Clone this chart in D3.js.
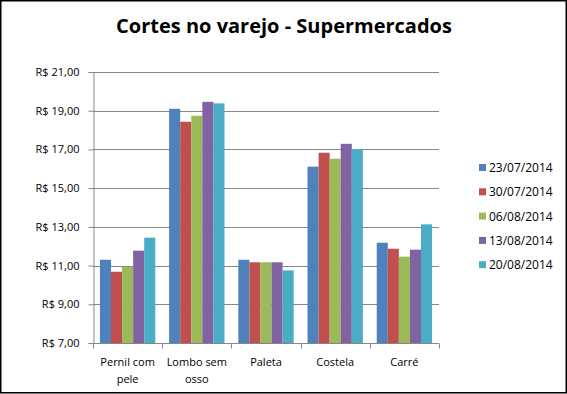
<!DOCTYPE html>
<html>
<head>
<meta charset="utf-8">
<script src="https://cdn.jsdelivr.net/npm/d3@7"></script>
<style>
  body { margin: 0; background: #fff; }
  text { font-family: "Open Sans", "DejaVu Sans", sans-serif; fill: #000; }
</style>
</head>
<body>
<div id="chart"></div>
<script>
// chart data
var categories = [["Pernil com", "pele"], ["Lombo sem", "osso"], ["Paleta"], ["Costela"], ["Carré"]];
var seriesNames = ["23/07/2014", "30/07/2014", "06/08/2014", "13/08/2014", "20/08/2014"];
var seriesColors = ["#4F81BD", "#C0504D", "#9BBB59", "#8064A2", "#4BACC6"];
var s1 = [11.30, 19.10, 11.30, 16.11, 12.18];
var s2 = [10.68, 18.43, 11.17, 16.83, 11.87];
var s3 = [10.94, 18.74, 11.17, 16.52, 11.46];
var s4 = [11.77, 19.46, 11.17, 17.29, 11.82];
var s5 = [12.44, 19.38, 10.75, 17.02, 13.13];
var yTicks = [7, 9, 11, 13, 15, 17, 19, 21];

var series = [s1, s2, s3, s4, s5];

var svgWidth = 567;
var svgHeight = 394;

var margin = { top: 72, right: 128, bottom: 51, left: 93 };
var width = svgWidth - margin.left - margin.right;
var height = svgHeight - margin.top - margin.bottom;

var svg = d3.select("#chart")
  .append("svg")
  .attr("width", svgWidth)
  .attr("height", svgHeight);

// outer frame
svg.append("rect")
  .attr("x", 0.75)
  .attr("y", 0.75)
  .attr("width", svgWidth - 1.5)
  .attr("height", svgHeight - 2)
  .attr("fill", "#fff")
  .attr("stroke", "#000")
  .attr("stroke-width", 1.5);

// title
svg.append("text")
  .attr("x", 284)
  .attr("y", 33)
  .attr("text-anchor", "middle")
  .attr("font-weight", "bold")
  .attr("font-size", "20px")
  .text("Cortes no varejo - Supermercados");

var chartGroup = svg.append("g")
  .attr("transform", `translate(${margin.left}, ${margin.top})`);

var xScale = d3.scaleBand()
  .domain(d3.range(categories.length))
  .range([0, width])
  .paddingInner(0.2)
  .paddingOuter(0.1);

var xInner = d3.scaleBand()
  .domain(d3.range(series.length))
  .range([0, xScale.bandwidth()]);

var yScale = d3.scaleLinear()
  .domain([7, 21])
  .range([height, 0]);

// gridlines
chartGroup.append("g")
  .selectAll("line")
  .data(yTicks.slice(1))
  .enter()
  .append("line")
  .attr("x1", 0)
  .attr("x2", width)
  .attr("y1", d => Math.round(yScale(d)) + 0.5)
  .attr("y2", d => Math.round(yScale(d)) + 0.5)
  .attr("stroke", "#868686")
  .attr("stroke-width", 1);

// bars
series.forEach(function(vals, i) {
  chartGroup.append("g")
    .selectAll("rect")
    .data(vals)
    .enter()
    .append("rect")
    .attr("x", (d, j) => xScale(j) + xInner(i))
    .attr("y", d => yScale(d))
    .attr("width", xInner.bandwidth())
    .attr("height", d => height - yScale(d))
    .attr("fill", seriesColors[i]);
});

// y axis
var leftAxis = d3.axisLeft(yScale)
  .tickValues(yTicks)
  .tickSize(5)
  .tickPadding(9)
  .tickFormat(d => "R$ " + d3.format(".2f")(d).replace(".", ","));

var yAxisG = chartGroup.append("g")
  .attr("transform", "translate(0.5, 0)")
  .call(leftAxis);
yAxisG.selectAll("path, line").attr("stroke", "#868686");
yAxisG.selectAll("text").attr("font-size", "11px").attr("font-family", "Open Sans, sans-serif");

// x axis line with category separators
var xAxisG = chartGroup.append("g")
  .attr("transform", `translate(0, ${height + 0.5})`);
xAxisG.append("line")
  .attr("x1", 0).attr("x2", width)
  .attr("stroke", "#868686");
xAxisG.selectAll("line.sep")
  .data(d3.range(categories.length + 1))
  .enter()
  .append("line")
  .attr("class", "sep")
  .attr("x1", d => Math.round(d * width / categories.length) + 0.5)
  .attr("x2", d => Math.round(d * width / categories.length) + 0.5)
  .attr("y1", 0)
  .attr("y2", 5)
  .attr("stroke", "#868686");

// category labels
var catLabels = xAxisG.selectAll("text")
  .data(categories)
  .enter()
  .append("text")
  .attr("text-anchor", "middle")
  .attr("font-size", "11px")
  .attr("transform", (d, j) => `translate(${xScale(j) + xScale.bandwidth() / 2}, 0)`);
catLabels.selectAll("tspan")
  .data(d => d)
  .enter()
  .append("tspan")
  .attr("x", 0)
  .attr("y", (d, k) => 22 + k * 17)
  .text(d => d);

// legend
var legend = svg.append("g")
  .attr("transform", "translate(479, 168)");
seriesNames.forEach(function(name, i) {
  var row = legend.append("g").attr("transform", `translate(0, ${i * 24.3})`);
  row.append("rect")
    .attr("x", 0).attr("y", -4)
    .attr("width", 7).attr("height", 7)
    .attr("fill", seriesColors[i]);
  row.append("text")
    .attr("x", 10)
    .attr("y", 4)
    .attr("font-size", "12px")
    .text(name);
});
</script>
</body>
</html>
